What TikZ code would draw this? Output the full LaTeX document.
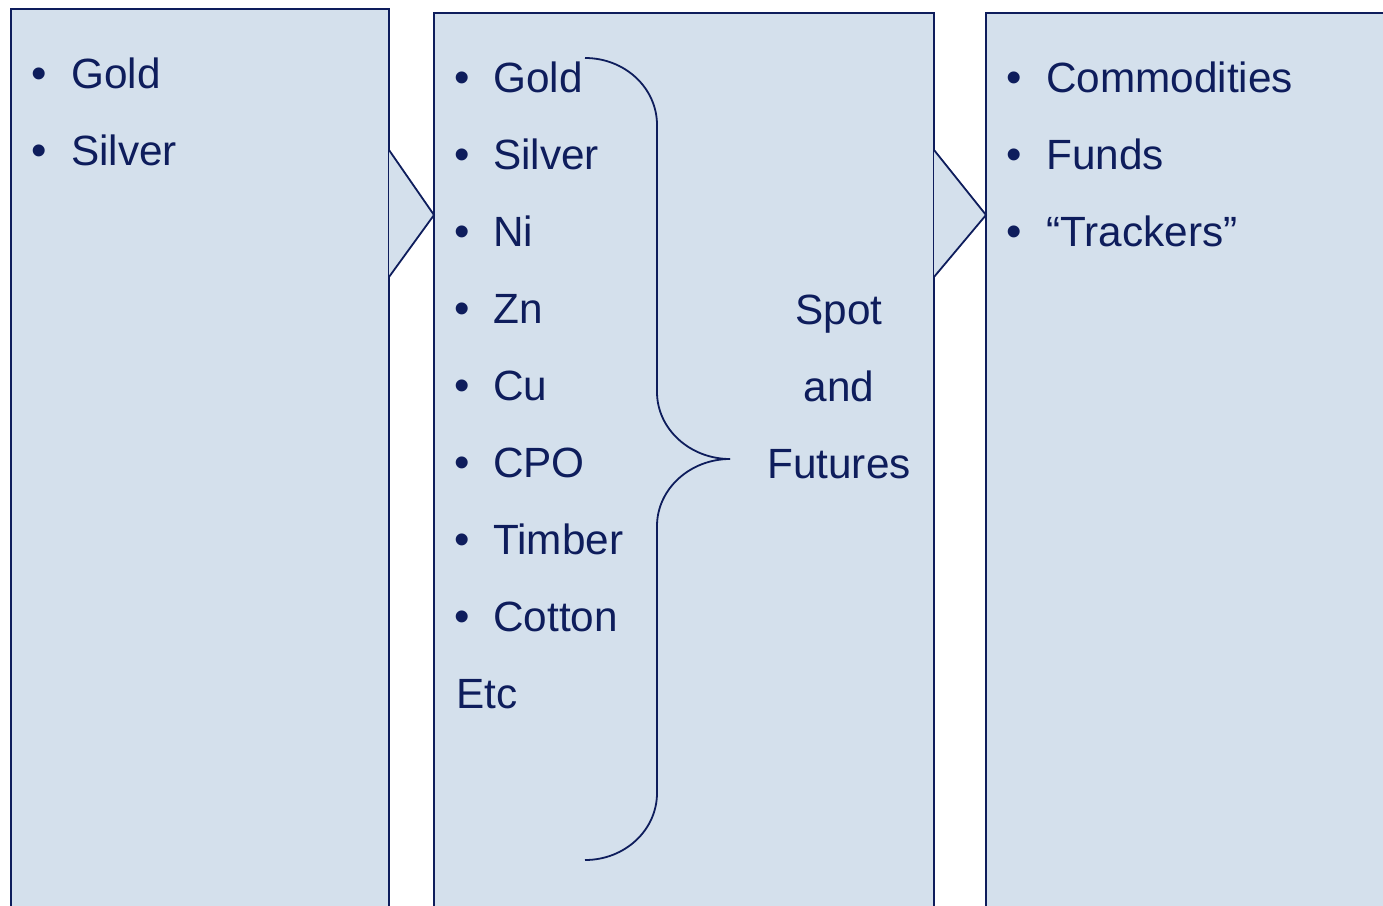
\documentclass[tikz,border=0pt]{standalone}
\usepackage{fontspec}
\setmainfont{Liberation Sans}
\definecolor{boxfill}{HTML}{D4E0EC}
\definecolor{navy}{HTML}{0E1D5C}
\begin{document}
\begin{tikzpicture}[x=1pt,y=-1pt,
  panel/.style={draw=navy, line width=1.8pt, fill=boxfill},
  txt/.style={text=navy, font=\fontsize{42.3}{50}\selectfont, inner sep=0pt, anchor=base west},
  bul/.style={text=navy, font=\fontsize{44}{50}\selectfont, inner sep=0pt, anchor=base},
  ctr/.style={text=navy, font=\fontsize{42.3}{50}\selectfont, inner sep=0pt, anchor=base},
  brace/.style={draw=navy, line width=1.8pt}]
\useasboundingbox (0,0) rectangle (1383,905);
\clip (0,0) rectangle (1383,905);
% panels
\path[panel] (11,9) rectangle (389,930);
\path[panel] (434,13) rectangle (934,930);
\path[panel] (986,13) rectangle (1400,930);
\coordinate (l1) at (389,150); \coordinate (l2) at (434,215); \coordinate (l3) at (389,277);
\coordinate (r1) at (934,150); \coordinate (r2) at (986,215); \coordinate (r3) at (934,277);
\draw[navy, line width=1.8pt, fill=boxfill, line join=miter] (l1) -- (l2) -- (l3);
\draw[navy, line width=1.8pt, fill=boxfill, line join=miter] (r1) -- (r2) -- (r3);
% left texts
\node[bul] (lb1) at (39,88) {•};
\node[txt] (lt1) at (71,88) {Gold};
\node[bul] (lb2) at (39,165) {•};
\node[txt] (lt2) at (71,165) {Silver};
% middle texts
\foreach \t [count=\i] in {Gold,Silver,Ni,Zn,Cu,CPO,Timber,Cotton}{
  \pgfmathsetmacro{\yy}{92+77*(\i-1)}
  \node[bul] (mb\i) at (462,\yy) {•};
  \node[txt] (mt\i) at (493,\yy) {\t};
}
\node[txt] (etc) at (456,708) {Etc};
\node[ctr] (spot) at (839,324) {Spot};
\node[ctr] (and) at (839,401) {and};
\node[ctr] (fut) at (839,478) {Futures};
% right texts
\node[bul] (rb1) at (1014,92) {•};
\node[txt] (rt1) at (1046,92) {Commodities};
\node[bul] (rb2) at (1014,169) {•};
\node[txt] (rt2) at (1046,169) {Funds};
\node[bul] (rb3) at (1014,246) {•};
\node[txt] (rt3) at (1046,246) {“Trackers”};
% brace
\draw[brace] (585,58) .. controls (625,58) and (657,88) .. (657,125)
  -- (657,392) .. controls (657,429) and (690,459) .. (730,459);
\draw[brace] (730,459) .. controls (690,459) and (657,489) .. (657,526)
  -- (657,793) .. controls (657,830) and (625,860) .. (585,860);
\end{tikzpicture}
\end{document}
